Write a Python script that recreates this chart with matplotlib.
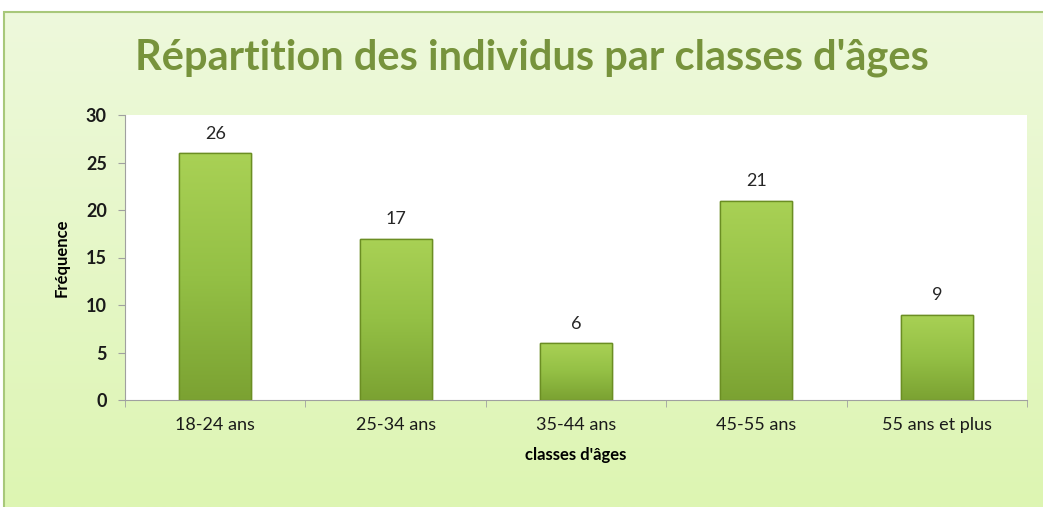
import matplotlib
matplotlib.use("Agg")
import matplotlib.pyplot as plt
import numpy as np
from matplotlib.colors import LinearSegmentedColormap
from matplotlib.patches import Rectangle

categories = ["18-24 ans", "25-34 ans", "35-44 ans", "45-55 ans", "55 ans et plus"]
frequences = [26, 17, 6, 21, 9]
yticks = [0, 5, 10, 15, 20, 25, 30]

plt.rcParams['font.family'] = ['Lato', 'DejaVu Sans']

W, H = 1043, 507
fig = plt.figure(figsize=(W / 100, H / 100), dpi=100)
fig.patch.set_facecolor("white")

# fond vert clair du cadre
bg = fig.add_axes([0, 0, 1, 1])
bg.set_xlim(0, W)
bg.set_ylim(0, H)
bg.axis("off")
cmap_bg = LinearSegmentedColormap.from_list("bg", ["#ddf5b2", "#eef9dc"])
grad = np.linspace(0, 1, 256).reshape(-1, 1)
bg.imshow(grad, cmap=cmap_bg, extent=[4, W + 5, 0, H - 12], origin="lower", aspect="auto")
bg.add_patch(Rectangle((4, -5), W + 5, H - 12 + 5, fill=False, edgecolor="#a8c87a", lw=1.5))

ax = fig.add_axes([125 / W, 107 / H, 902 / W, 285 / H])
ax.set_facecolor("white")
x = np.arange(len(categories))
bars = ax.bar(x, frequences, width=0.4, color="#94c045", edgecolor="#6b8e23", lw=1.0, zorder=2)

cmap_bar = LinearSegmentedColormap.from_list("bar", ["#7ba232", "#94c045", "#a9d155"])
for b in bars:
    bx, by, bw, bh = b.get_x(), b.get_y(), b.get_width(), b.get_height()
    im = ax.imshow(grad, cmap=cmap_bar, extent=[bx, bx + bw, by, by + bh],
                   origin="lower", aspect="auto", zorder=2.5)
    im.set_clip_path(b)
    ax.add_patch(Rectangle((bx, by), bw, bh, fill=False, edgecolor="#6b8e23", lw=1.0, zorder=3))

for xi, v in zip(x, frequences):
    ax.text(xi, v + 1.2, str(v), ha="center", va="bottom", fontsize=13, color="#262626")

ax.set_xlim(-0.5, len(categories) - 0.5)
ax.set_ylim(0, 30)
ax.set_yticks(yticks)
ax.set_xticks(x)
ax.set_xticklabels(categories, fontsize=13, color="#1a1a1a")
ax.set_xticks(np.arange(-0.5, len(categories)), minor=True)
ax.tick_params(axis="x", which="major", length=0, pad=12)
ax.tick_params(axis="x", which="minor", length=5, color="#a0a0a0", direction="out")
ax.tick_params(axis="y", length=5, color="#a0a0a0", labelsize=13, labelcolor="#1a1a1a", pad=8)
for lab in ax.get_yticklabels():
    lab.set_fontweight("bold")

for s in ["top", "right"]:
    ax.spines[s].set_visible(False)
ax.spines["left"].set_color("#a0a0a0")
ax.spines["bottom"].set_color("#a0a0a0")

ax.set_ylabel("Fréquence", fontsize=12, fontweight="bold", labelpad=12)
ax.set_xlabel("classes d'âges", fontsize=12, fontweight="bold", labelpad=10)

fig.text(532 / W, 1 - 58 / H, "Répartition des individus par classes d'âges",
         ha="center", va="center", fontsize=30, fontweight="bold", color="#77933c")

fig.savefig("out.png", dpi=100)
